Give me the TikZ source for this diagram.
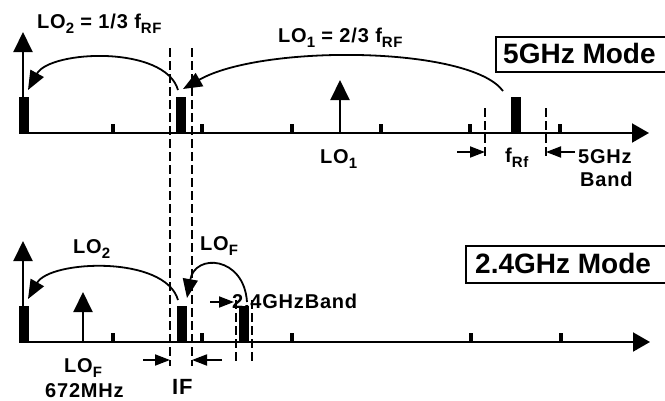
\documentclass[tikz,border=0pt]{standalone}
\usepackage{fontspec}
\setmainfont{Liberation Sans}[LetterSpace=4]
\newfontfamily\bigfont{Liberation Sans}
\usetikzlibrary{arrows.meta}
\tikzset{
  x=1pt,y=-1pt,
  lbl/.style={font=\fontsize{20}{22}\selectfont\bfseries, inner sep=0pt, anchor=base west},
  modelbl/.style={font=\bigfont\fontsize{28}{30}\selectfont\bfseries, inner sep=0pt, anchor=base west},
  axisline/.style={line width=2pt, -{Triangle[length=17pt,width=19pt]}},
  uparrow/.style={line width=2pt, -{Triangle[length=20pt,width=19pt]}},
  curvearrow/.style={line width=1.8pt, -{Triangle[length=19pt,width=15pt]}},
  bandarrow/.style={line width=1.8pt, -{Triangle[length=15pt,width=11pt]}},
  dashline/.style={line width=1.6pt, dash pattern=on 9pt off 4pt},
  bar/.style={fill=black, draw=none},
  tickmark/.style={fill=black, draw=none},
  modebox/.style={line width=2pt}
}
\newcommand{\sbs}[1]{\raisebox{-0.28em}{\fontsize{15}{16}\selectfont #1}}
\begin{document}
\begin{tikzpicture}
\useasboundingbox (0,0) rectangle (665,400);

% ---------- top (5GHz) ----------
\coordinate (tA0) at (19,133);
\coordinate (tA1) at (649,133);
\draw[axisline] (tA0) -- (tA1);
\coordinate (tV0) at (23,133);
\coordinate (tV1) at (23,32);
\draw[uparrow] (tV0) -- (tV1);
\fill[bar] (19,97) rectangle (29,134);
\fill[bar] (176,97) rectangle (186,134);
\fill[bar] (511,97) rectangle (521,134);
\foreach \x in {113,202,292,381,470,560} \fill[tickmark] (\x-2,124) rectangle (\x+2,133);
\coordinate (lo1b) at (340,133);
\coordinate (lo1t) at (340,80);
\draw[uparrow] (lo1b) -- (lo1t);

% dashed lines
\coordinate (d1t) at (170,48); \coordinate (d1b) at (170,366);
\coordinate (d2t) at (192,48); \coordinate (d2b) at (192,366);
\draw[dashline] (d1t) -- (d1b);
\draw[dashline] (d2t) -- (d2b);
\coordinate (d3t) at (485,108); \coordinate (d3b) at (485,156);
\coordinate (d4t) at (546,108); \coordinate (d4b) at (546,156);
\draw[dashline] (d3t) -- (d3b);
\draw[dashline] (d4t) -- (d4b);

% curves
\coordinate (c1s) at (178,90); \coordinate (c1e) at (28,90);
\draw[curvearrow] (c1s) .. controls (165,45) and (50,50) .. (c1e);
\coordinate (c2s) at (503,91); \coordinate (c2e) at (183,89);
\draw[curvearrow] (c2s) .. controls (470,46) and (262,44) .. (c2e);

% band arrows
\coordinate (b1s) at (457,152); \coordinate (b1e) at (485,152);
\draw[bandarrow] (b1s) -- (b1e);
\coordinate (b2s) at (575,152); \coordinate (b2e) at (546,152);
\draw[bandarrow] (b2s) -- (b2e);

% labels
\node[lbl] (tlo2) at (37,28) {LO\sbs{2} = 1/3 f\sbs{RF}};
\node[lbl] (tlo1) at (278,42) {LO\sbs{1} = 2/3 f\sbs{RF}};
\node[lbl] (tlo1b) at (320,163) {LO\sbs{1}};
\node[lbl] (tfrf) at (505,162) {f\sbs{Rf}};
\node[lbl] (t5g) at (578,163) {5GHz};
\node[lbl] (tband) at (580,186) {Band};
\draw[modebox] (700,37) -- (496,37) -- (496,72) -- (700,72);
\node[modelbl] (m5) at (503,63) {5GHz Mode};

% ---------- bottom (2.4GHz) ----------
\coordinate (bA0) at (19,342);
\coordinate (bA1) at (650,342);
\draw[axisline] (bA0) -- (bA1);
\coordinate (bV0) at (23,342);
\coordinate (bV1) at (23,241);
\draw[uparrow] (bV0) -- (bV1);
\fill[bar] (19,306) rectangle (29,343);
\fill[bar] (177,306) rectangle (187,343);
\fill[bar] (239,306) rectangle (249,343);
\foreach \x in {113,202,292,471,561} \fill[tickmark] (\x-2,333) rectangle (\x+2,342);
\coordinate (lofb) at (83,342);
\coordinate (loft) at (83,292);
\draw[uparrow] (lofb) -- (loft);

\coordinate (d5t) at (236,300); \coordinate (d5b) at (236,362);
\coordinate (d6t) at (252,300); \coordinate (d6b) at (252,362);
\draw[dashline] (d5t) -- (d5b);
\draw[dashline] (d6t) -- (d6b);

\coordinate (c3s) at (178,300); \coordinate (c3e) at (28,299);
\draw[curvearrow] (c3s) .. controls (165,255) and (50,260) .. (c3e);
\coordinate (c4s) at (247,302); \coordinate (c4e) at (187,298);
\draw[curvearrow] (c4s) .. controls (244,256) and (195,253) .. (c4e);

\coordinate (b3s) at (143,360); \coordinate (b3e) at (170,360);
\draw[bandarrow] (b3s) -- (b3e);
\coordinate (b4s) at (222,360); \coordinate (b4e) at (192,360);
\draw[bandarrow] (b4s) -- (b4e);
\coordinate (b5s) at (210,302); \coordinate (b5e) at (234,302);
\draw[bandarrow] (b5s) -- (b5e);

\node[lbl] (blo2) at (73,253) {LO\sbs{2}};
\node[lbl] (blof) at (200,250) {LO\sbs{F}};
\node[lbl] (b24) at (232,308) {2.4GHzBand};
\node[lbl] (blof2) at (64,372) {LO\sbs{F}};
\node[lbl] (b672) at (45,397) {672MHz};
\node[lbl, font=\fontsize{22}{24}\selectfont\bfseries] (bif) at (172,394) {IF};
\draw[modebox] (700,246) -- (466,246) -- (466,283) -- (700,283);
\node[modelbl] (m24) at (475,273) {2.4GHz Mode};
\end{tikzpicture}
\end{document}
